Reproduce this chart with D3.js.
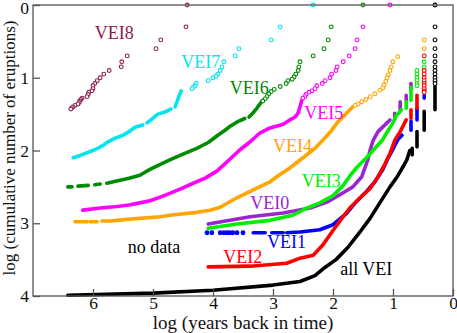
<!DOCTYPE html>
<html>
<head>
<meta charset="utf-8">
<script src="https://cdn.jsdelivr.net/npm/d3@7"></script>
<style>
body { margin: 0; background: #fff; }
svg { display: block; font-family: "Liberation Serif", "DejaVu Serif", serif; }
</style>
</head>
<body>
<svg width="457" height="333"></svg>
<script>
// x = log10(years back), y = log10(cumulative eruptions)
var xTicks = [6, 5, 4, 3, 2, 1, 0];
var yTicks = [0, 1, 2, 3, 4];

var vei8Dots = [[4.43,0],[4.45,0.30],[4.87,0.48],[4.95,0.60],[5.43,0.70],[5.52,0.78],[5.53,0.85],[5.73,0.90],
  [5.82,0.95],[5.88,1.0],[5.93,1.04],[5.97,1.08],[6.0,1.11],[6.0,1.15],[6.02,1.18],[6.07,1.20],[6.08,1.23],
  [6.1,1.26],[6.18,1.28],[6.2,1.30],[6.22,1.32],[6.23,1.34],[6.25,1.36],[6.3,1.38],[6.33,1.40],[6.35,1.41],[6.37,1.43]];

var vei7Dots = [[2.33,0],[2.88,0.30],[3.03,0.48],[3.57,0.60],[3.63,0.70],[3.82,0.78],[3.85,0.85],[3.88,0.90],
  [3.92,0.95],[3.95,0.98],[4.0,1.0],[4.08,1.04],[4.28,1.08],[4.30,1.11],[4.33,1.13],[4.35,1.15]];
var vei7Lines = [
  [[4.53,1.18],[4.57,1.26],[4.60,1.33],[4.63,1.40]],
  [[4.70,1.43],[4.80,1.47],[4.92,1.50],[5.02,1.57],[5.10,1.62]],
  [[5.17,1.65],[5.30,1.68],[5.38,1.73],[5.50,1.79],[5.63,1.83],[5.75,1.88],[5.83,1.93],[5.97,1.99],[6.13,2.04],[6.25,2.08],[6.33,2.10]]
];

var vei6Dots = [[1.50,0],[2.03,0.30],[2.08,0.48],[2.15,0.60],[2.33,0.70],[2.55,0.78],[2.57,0.85],[2.58,0.90],
  [2.62,0.95],[2.65,0.99],[2.68,1.02],[2.75,1.04],[2.78,1.08],[2.88,1.12],[2.98,1.16],[3.03,1.19],[3.07,1.22],
  [3.10,1.26],[3.13,1.29],[3.17,1.32]];
var vei6Lines = [
  [[3.20,1.34],[3.27,1.42],[3.33,1.48],[3.40,1.54]],
  [[3.47,1.56],[3.58,1.60],[3.72,1.67],[3.83,1.74],[3.92,1.79],[4.08,1.89],[4.27,1.97],[4.50,2.05],[4.72,2.13],
   [4.93,2.21],[5.05,2.26],[5.22,2.34],[5.40,2.38],[5.55,2.41],[5.77,2.45]],
  [[5.88,2.46],[5.97,2.47]],
  [[6.08,2.48],[6.25,2.49]],
  [[6.35,2.50],[6.42,2.50]]
];

var vei5Dots = [[1.05,0],[1.50,0.30],[1.60,0.48],[1.63,0.60],[1.73,0.70],[1.83,0.78],[1.93,0.85],[1.95,0.90],
  [2.02,0.95],[2.05,1.0],[2.13,1.04],[2.18,1.08],[2.27,1.11],[2.30,1.15],[2.35,1.18],[2.40,1.20],[2.45,1.23],
  [2.47,1.26],[2.50,1.28]];
var vei5Lines = [
  [[2.52,1.31],[2.55,1.40],[2.58,1.48],[2.63,1.54],[2.72,1.58],[2.83,1.64],[3.05,1.69],[3.22,1.76],[3.38,1.88],
   [3.55,1.99],[3.72,2.12],[3.93,2.28],[4.13,2.38],[4.33,2.45],[4.52,2.52],[4.72,2.59],[4.88,2.64],[5.05,2.69],
   [5.22,2.72],[5.40,2.75],[5.60,2.77],[5.88,2.79],[6.17,2.82]]
];

var vei4Dots = [[0.48,0.48],[0.48,0.60],[0.92,0.71],[1.0,0.78],[1.03,0.85],[1.05,0.90],[1.08,0.96],[1.10,1.0],
  [1.12,1.05],[1.15,1.10],[1.17,1.14],[1.22,1.17],[1.30,1.22],[1.38,1.26],[1.45,1.30],[1.52,1.33],[1.58,1.36],[1.63,1.38]];
var vei4Lines = [
  [[1.67,1.40],[1.80,1.51],[1.93,1.62],[2.05,1.75],[2.17,1.86],[2.30,1.97],[2.50,2.10],[2.72,2.24],[2.90,2.34],
   [3.05,2.43],[3.33,2.54],[3.60,2.65],[3.88,2.78],[4.05,2.82],[4.27,2.85],[4.72,2.89],[4.88,2.91],[5.33,2.94],
   [5.72,2.97],[5.85,2.97]],
  [[5.93,2.98],[6.05,2.98]],
  [[6.10,2.98],[6.30,2.98]]
];

var vei0Lines = [
  [[0.70,1.08],[0.70,1.15]],
  [[0.78,1.24],[0.78,1.31]],
  [[0.88,1.33],[0.88,1.44]],
  [[0.97,1.49],[0.97,1.56]],
  [[1.05,1.58],[1.10,1.62],[1.25,1.74],[1.33,1.86],[1.38,1.99],[1.42,2.13],[1.52,2.36],[1.67,2.50],[1.83,2.58],
   [2.10,2.71],[2.38,2.79],[2.83,2.86],[3.38,2.91],[4.08,3.01]]
];

var vei3Dots = [[0.48,0.78],[0.48,0.85],[0.60,0.90],[0.60,0.95],[0.60,1.0],[0.60,1.04],[0.60,1.08],[0.60,1.11]];
var vei3Lines = [
  [[0.70,1.13],[0.70,1.31]],
  [[0.78,1.33],[0.78,1.42]],
  [[0.86,1.44],[0.95,1.53],[1.0,1.62],[1.10,1.75],[1.18,1.86],[1.30,1.97],[1.43,2.09],[1.60,2.23],[1.70,2.33],
   [1.83,2.48],[2.0,2.62],[2.22,2.72],[2.43,2.79],[2.67,2.89],[3.05,2.96],[3.60,3.01],[4.08,3.07]]
];

var vei1Dots = [[3.50,3.13],[3.60,3.13],[3.67,3.13],[3.72,3.13],[3.77,3.13],[3.82,3.13],[3.88,3.13],[4.02,3.13],[4.10,3.13]];
var vei1Lines = [
  [[0.48,1.24],[0.48,1.28]],
  [[0.60,1.42],[0.60,1.58]],
  [[0.70,1.60],[0.70,1.72]],
  [[0.85,1.79],[0.92,1.85],[1.0,1.98],[1.08,2.10],[1.17,2.26],[1.30,2.43],[1.45,2.57],[1.62,2.71],[1.77,2.86],
   [1.90,2.95],[2.0,3.02],[2.22,3.09],[2.55,3.12],[2.77,3.13]],
  [[2.83,3.13],[3.02,3.13]],
  [[3.13,3.13],[3.33,3.13]]
];

var vei2Dots = [[0.48,0.70],[0.48,0.90],[0.48,0.95],[0.48,1.0],[0.48,1.04],[0.48,1.08],[0.48,1.11],[0.48,1.15],[0.48,1.18],[0.48,1.20]];
var vei2Lines = [
  [[0.60,1.24],[0.60,1.42]],
  [[0.70,1.44],[0.70,1.56]],
  [[0.78,1.58],[0.88,1.74],[0.97,1.86],[1.05,2.04],[1.13,2.18],[1.25,2.36],[1.38,2.52],[1.55,2.65],[1.72,2.79],
   [1.83,2.91],[2.0,3.10],[2.17,3.30],[2.33,3.44],[2.55,3.48],[2.77,3.55],[3.38,3.59],[4.08,3.60]]
];

var allDots = [[0.30,0],[0.30,0.30],[0.30,0.48],[0.30,0.60],[0.30,0.70],[0.30,0.78],[0.30,0.85],[0.30,0.90],
  [0.30,0.95],[0.30,1.0],[0.30,1.04],[0.30,1.08]];
var allLines = [
  [[0.30,1.11],[0.30,1.44]],
  [[0.48,1.46],[0.48,1.72]],
  [[0.60,1.74],[0.60,1.95]],
  [[0.68,1.97],[0.68,2.06]],
  [[0.72,2.0],[0.77,2.13],[0.83,2.22],[0.93,2.36],[1.05,2.50],[1.22,2.72],[1.38,2.93],[1.55,3.12],[1.75,3.33],
   [1.95,3.50],[2.17,3.63],[2.30,3.72],[2.55,3.80],[3.0,3.85],[4.0,3.92],[5.0,3.96],[6.42,3.99]]
];

var series = [
  { name: 'VEI8', color: '#8b2252', dots: vei8Dots, lines: [], solid: false },
  { name: 'VEI7', color: '#00e5ee', dots: vei7Dots, lines: vei7Lines, solid: false },
  { name: 'VEI6', color: '#008b00', dots: vei6Dots, lines: vei6Lines, solid: false },
  { name: 'VEI5', color: '#ff00ff', dots: vei5Dots, lines: vei5Lines, solid: false },
  { name: 'VEI4', color: '#ffa500', dots: vei4Dots, lines: vei4Lines, solid: false },
  { name: 'VEI0', color: '#9b26cf', dots: [], lines: vei0Lines, solid: false },
  { name: 'VEI3', color: '#00ee00', dots: vei3Dots, lines: vei3Lines, solid: false },
  { name: 'VEI1', color: '#0000ff', dots: vei1Dots, lines: vei1Lines, solid: true },
  { name: 'VEI2', color: '#ff0000', dots: vei2Dots, lines: vei2Lines, solid: false },
  { name: 'all VEI', color: '#000000', dots: allDots, lines: allLines, solid: false }
];

// label anchors in data units (left edge, baseline)
var labels = [
  { text: 'VEI8', x: 5.97, y: 0.47, color: '#8b1a4f' },
  { text: 'VEI7', x: 4.53, y: 0.87, color: '#00e5ee' },
  { text: 'VEI6', x: 3.72, y: 1.22, color: '#008b00' },
  { text: 'VEI5', x: 2.48, y: 1.57, color: '#ff00ff' },
  { text: 'VEI4', x: 3.00, y: 2.02, color: '#ffa500' },
  { text: 'VEI3', x: 2.52, y: 2.50, color: '#00ee00' },
  { text: 'VEI0', x: 3.38, y: 2.80, color: '#9b26cf' },
  { text: 'VEI1', x: 3.10, y: 3.34, color: '#0000ff' },
  { text: 'VEI2', x: 3.83, y: 3.55, color: '#ff0000' },
  { text: 'no data', x: 5.42, y: 3.41, color: '#000000' },
  { text: 'all VEI', x: 1.88, y: 3.71, color: '#000000' }
];

var W = 457, H = 333;
var margin = { left: 33, right: 4, top: 5, bottom: 37 };

var svg = d3.select('svg');

var x = d3.scaleLinear().domain([7, 0]).range([margin.left, W - margin.right]);
var y = d3.scaleLinear().domain([0, 4]).range([margin.top, H - margin.bottom]);

var line = d3.line().x(d => x(d[0])).y(d => y(d[1]));

series.forEach(s => {
  var g = svg.append('g');
  g.selectAll('path')
    .data(s.lines)
    .enter().append('path')
    .attr('d', line)
    .attr('fill', 'none')
    .attr('stroke', s.color)
    .attr('stroke-width', 3.6)
    .attr('stroke-linecap', 'round')
    .attr('stroke-linejoin', 'round');
  g.selectAll('circle')
    .data(s.dots)
    .enter().append('circle')
    .attr('cx', d => x(d[0]))
    .attr('cy', d => y(d[1]))
    .attr('r', 1.9)
    .attr('fill', s.solid ? s.color : '#fff')
    .attr('stroke', s.color)
    .attr('stroke-width', 1.1);
});

// frame
svg.append('rect')
  .attr('x', x(7)).attr('y', y(0))
  .attr('width', x(0) - x(7)).attr('height', y(4) - y(0))
  .attr('fill', 'none')
  .attr('stroke', '#555')
  .attr('stroke-width', 1.3);

var xAxis = svg.append('g')
  .attr('transform', `translate(0,${y(4)})`)
  .call(d3.axisBottom(x).tickValues(xTicks).tickSize(-7).tickPadding(1).tickFormat(d3.format('d')));

var yAxis = svg.append('g')
  .attr('transform', `translate(${x(7)},0)`)
  .call(d3.axisLeft(y).tickValues(yTicks).tickSize(-7).tickPadding(4).tickFormat(d3.format('d')));

[xAxis, yAxis].forEach(a => {
  a.select('.domain').remove();
  a.selectAll('line').attr('stroke', '#555').attr('stroke-width', 1.3);
  a.selectAll('text')
    .attr('fill', '#111')
    .style('font-family', '"Liberation Serif", serif')
    .style('font-size', '17.5px');
});
// keep the top "0" inside the picture
yAxis.selectAll('.tick').filter(d => d === 0).select('text').attr('dy', '0.5em');

svg.append('g').selectAll('text')
  .data(labels)
  .enter().append('text')
  .attr('x', d => x(d.x))
  .attr('y', d => y(d.y))
  .attr('fill', d => d.color)
  .style('font-size', '18px')
  .text(d => d.text);

svg.append('text')
  .attr('x', 243)
  .attr('y', 329)
  .attr('text-anchor', 'middle')
  .attr('fill', '#111')
  .style('font-size', '19px')
  .text('log (years back in time)');

svg.append('text')
  .attr('transform', 'translate(15,148) rotate(-90)')
  .attr('text-anchor', 'middle')
  .attr('fill', '#111')
  .style('font-size', '17px')
  .text('log (cumulative number of eruptions)');
</script>
</body>
</html>
